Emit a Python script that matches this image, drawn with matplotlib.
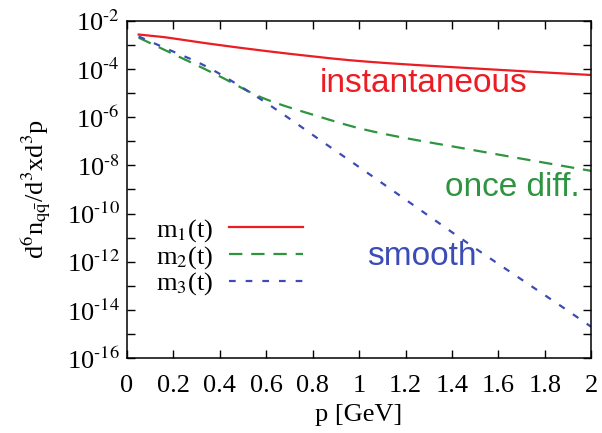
import numpy as np
import matplotlib.pyplot as plt
from matplotlib.ticker import FixedLocator, FuncFormatter, NullFormatter

plt.rcParams['font.family'] = ['Liberation Serif', 'DejaVu Serif']
plt.rcParams['mathtext.fontset'] = 'stix'

# momentum grid and log10 of the spectra
p_m1 = [0.05, 0.144, 0.287, 0.503, 0.718, 1.0, 1.5, 2.0]
log_m1 = [-2.57, -2.66, -2.86, -3.14, -3.39, -3.67, -3.98, -4.25]

p_m2 = [0.05, 0.2, 0.388, 0.589, 0.805, 1.03, 1.5, 2.0]
log_m2 = [-2.70, -3.38, -4.25, -5.22, -5.91, -6.53, -7.38, -8.23]

p_m3 = [0.05, 0.144, 0.33, 0.546, 0.718, 0.79, 1.03, 1.5, 1.8, 2.0]
log_m3 = [-2.65, -3.05, -3.84, -5.07, -6.18, -6.67, -8.27, -11.44, -13.38, -14.7]

labels = [r'm$_1$(t)', r'm$_2$(t)', r'm$_3$(t)']
colors = ['#ec1c24', '#2e9440', '#3b4cb4']


def pchip(px, py, xs):
    # monotone cubic through the read points, only to draw them smoothly
    px = np.asarray(px, float)
    py = np.asarray(py, float)
    h = np.diff(px)
    d = np.diff(py) / h
    m = np.zeros_like(py)
    m[0], m[-1] = d[0], d[-1]
    for i in range(1, len(px) - 1):
        if d[i - 1] * d[i] > 0:
            w1 = 2 * h[i] + h[i - 1]
            w2 = h[i] + 2 * h[i - 1]
            m[i] = (w1 + w2) / (w1 / d[i - 1] + w2 / d[i])
    idx = np.clip(np.searchsorted(px, xs) - 1, 0, len(h) - 1)
    t = (xs - px[idx]) / h[idx]
    h00 = 2 * t**3 - 3 * t**2 + 1
    h10 = t**3 - 2 * t**2 + t
    h01 = -2 * t**3 + 3 * t**2
    h11 = t**3 - t**2
    return (h00 * py[idx] + h10 * h[idx] * m[idx] + h01 * py[idx + 1]
            + h11 * h[idx] * m[idx + 1])


def curve(px, ly):
    xs = np.linspace(px[0], px[-1], 400)
    return xs, 10 ** pchip(px, ly, xs)


def pow_label(v, _):
    k = int(round(np.log10(v)))
    return r'10$^{\text{-}%d}$' % (-k)


fig = plt.figure(figsize=(6.02, 4.33), dpi=100)
ax = fig.add_axes([0.211, 0.173, 0.771, 0.779])

x, y = curve(p_m1, log_m1)
ax.plot(x, y, color=colors[0], lw=1.6, label=labels[0])
x, y = curve(p_m2, log_m2)
ax.plot(x, y, color=colors[1], lw=1.6, dashes=(6, 4), label=labels[1])
x, y = curve(p_m3, log_m3)
ax.plot(x, y, color=colors[2], lw=1.6, dashes=(3, 4.5), label=labels[2])

ax.set_yscale('log')
ax.set_xlim(0, 2)
ax.set_ylim(1e-16, 1e-2)
ax.xaxis.set_major_locator(FixedLocator(np.arange(0, 2.01, 0.2)))
ax.xaxis.set_major_formatter(FuncFormatter(lambda v, _: ('%g' % round(v, 1))))
ax.yaxis.set_major_locator(FixedLocator([10.0 ** k for k in range(-16, -1, 2)]))
ax.yaxis.set_minor_locator(FixedLocator([10.0 ** k for k in range(-15, -2, 2)]))
ax.yaxis.set_major_formatter(FuncFormatter(pow_label))
ax.yaxis.set_minor_formatter(NullFormatter())
ax.tick_params(which='both', direction='in', top=True, right=True, labelsize=19)
ax.tick_params(axis='x', pad=12)
ax.tick_params(axis='y', pad=5)
ax.tick_params(which='major', length=6, width=1)
ax.tick_params(which='minor', length=6, width=1)
for s in ax.spines.values():
    s.set_linewidth(1.1)

ax.set_xlabel('p [GeV]', fontsize=19, labelpad=5)
ax.set_ylabel(r'd$^6$n$_{\mathrm{q\bar{q}}}$/d$^3$xd$^3$p', fontsize=19, labelpad=10)

ax.text(1.276, 2.6e-5, 'instantaneous', color=colors[0], fontsize=24,
        family='Liberation Sans', ha='center', va='center')
ax.text(1.66, 1.15e-9, 'once diff.', color=colors[1], fontsize=24,
        family='Liberation Sans', ha='center', va='center')
ax.text(1.27, 1.7e-12, 'smooth', color=colors[2], fontsize=24,
        family='Liberation Sans', ha='center', va='center')

ax.legend(loc='upper left', bbox_to_anchor=(0.04, 0.45), frameon=False,
          fontsize=19, markerfirst=False, handlelength=2.8, handletextpad=0.6,
          labelspacing=0.0, borderaxespad=0)

fig.savefig('out.png', dpi=100)
